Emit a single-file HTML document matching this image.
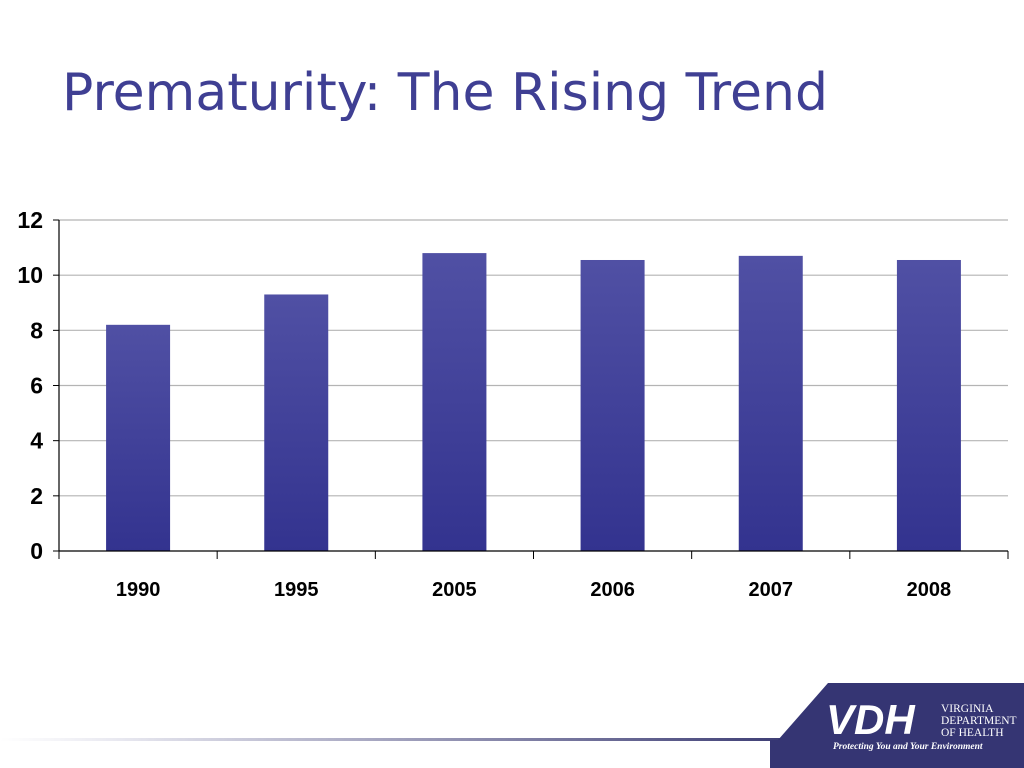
<!DOCTYPE html>
<html><head><meta charset="utf-8"><style>
body{margin:0;width:1024px;height:768px;overflow:hidden;background:#fff;font-family:"Liberation Sans",sans-serif;position:relative}
#title{position:absolute;left:62px;top:63px;font-size:52px;color:#3f3f93;font-family:"DejaVu Sans","Liberation Sans",sans-serif;white-space:nowrap}
</style></head><body>
<div id="title">Prematurity: The Rising Trend</div>
<svg id="chart" width="1024" height="768" style="position:absolute;left:0;top:0">
<defs>
<linearGradient id="bg" x1="0" y1="0" x2="0" y2="1"><stop offset="0" stop-color="#5050a4"/><stop offset="1" stop-color="#33338f"/></linearGradient>
<linearGradient id="fg" x1="0" y1="0" x2="1" y2="0"><stop offset="0" stop-color="#ffffff"/><stop offset="0.15" stop-color="#e8e8f0"/><stop offset="1" stop-color="#3a3a72"/></linearGradient>
</defs>
<g id="grid"></g><g id="bars"></g><g id="axes"></g>
<rect x="0" y="738" width="800" height="3" fill="url(#fg)"/>
<polygon points="778,740 828,683 1024,683 1024,768 770,768 770,740" fill="#353573"/>
<g>
<text x="826" y="734" font-family="Liberation Sans,sans-serif" font-style="italic" font-weight="bold" font-size="42" fill="#fff">VDH</text>
<text x="941" y="712" font-family="Liberation Serif,serif" font-size="11.5" fill="#fff">VIRGINIA</text>
<text x="941" y="724" font-family="Liberation Serif,serif" font-size="11.5" fill="#fff">DEPARTMENT</text>
<text x="941" y="736" font-family="Liberation Serif,serif" font-size="11.5" fill="#fff">OF HEALTH</text>
<text x="833" y="749" font-family="Liberation Serif,serif" font-style="italic" font-weight="bold" font-size="9.5" fill="#fff">Protecting You and Your Environment</text>
</g>
</svg>
<script>
const categories=["1990","1995","2005","2006","2007","2008"];
const values=[8.2,9.3,10.8,10.55,10.7,10.55];
const ticks=[0,2,4,6,8,10,12];
const NS="http://www.w3.org/2000/svg";
const x0=59,x1=1008,y0=551,y1=220,yMax=12;
const bw=(x1-x0)/categories.length;
function yS(v){return y0-(v/yMax)*(y0-y1);}
function xC(i){return x0+bw*(i+0.5);}
function mk(t,a,p){const e=document.createElementNS(NS,t);for(const k in a)e.setAttribute(k,a[k]);p.appendChild(e);return e;}
const G=document.getElementById('grid'),B=document.getElementById('bars'),A=document.getElementById('axes');
ticks.forEach(t=>{
 if(t>0){const l=mk('line',{x1:x0,x2:x1,y1:yS(t),y2:yS(t),stroke:'#b4b4b4','stroke-width':1.2},G);
 
 }
 mk('line',{x1:x0-6,x2:x0,y1:yS(t),y2:yS(t),stroke:'#000'},A);
 const tx=mk('text',{x:x0-16,y:yS(t)+8,'text-anchor':'end','font-size':23,'font-weight':'bold'},A);tx.textContent=t;
 
 
});
values.forEach((v,i)=>{
 const r=mk('rect',{x:xC(i)-32,y:yS(v),width:64,height:y0-yS(v),fill:'url(#bg)'},B);
 
 
 const t=mk('text',{x:xC(i),y:596,'text-anchor':'middle','font-size':20,'font-weight':'bold'},A);t.textContent=categories[i];
 
 
});
for(let i=0;i<=categories.length;i++)mk('line',{x1:x0+bw*i,x2:x0+bw*i,y1:y0,y2:y0+8,stroke:'#000'},A);
mk('line',{x1:x0,x2:x0,y1:y1,y2:y0,stroke:'#000','stroke-width':1.2},A);
mk('line',{x1:x0,x2:x1,y1:y0,y2:y0,stroke:'#000','stroke-width':1.2},A);
</script>
</body></html>
